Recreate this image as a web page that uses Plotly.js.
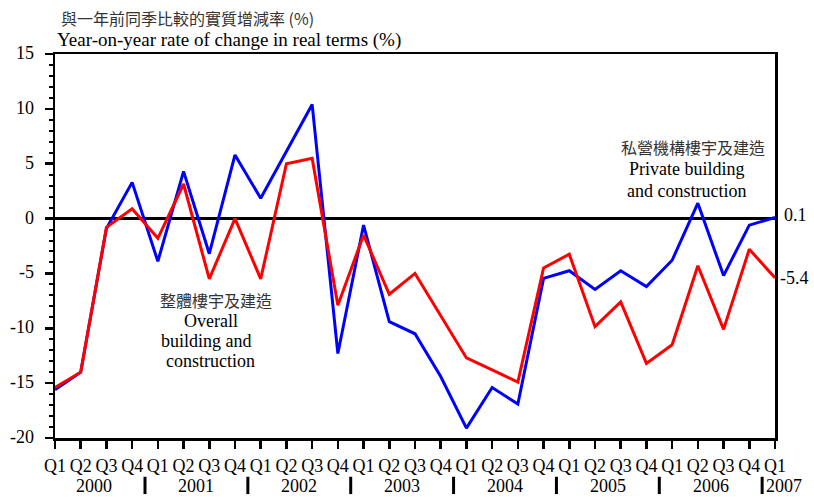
<!DOCTYPE html>
<html>
<head>
<meta charset="utf-8">
<script src="https://cdn.plot.ly/plotly-3.0.1.min.js"></script>
<style>
html,body{margin:0;padding:0;background:#fff;}
#chart{width:814px;height:497px;}
</style>
</head>
<body>
<div id="chart"></div>
<script>
const quarterLabels = ['Q1','Q2','Q3','Q4','Q1','Q2','Q3','Q4','Q1','Q2','Q3','Q4','Q1','Q2','Q3','Q4',
  'Q1','Q2','Q3','Q4','Q1','Q2','Q3','Q4','Q1','Q2','Q3','Q4','Q1'];
const years = ['2000','2001','2002','2003','2004','2005','2006','2007'];
const privateBC = [-15.6, -14.0, -0.9, 3.3, -3.9, 4.3, -3.2, 5.8, 1.85, 6.1, 10.4, -12.3,
  -0.6, -9.4, -10.5, -14.4, -19.1, -15.4, -16.9, -5.45, -4.75, -6.45, -4.75, -6.2,
  -3.8, 1.4, -5.2, -0.6, 0.1];
const overallBC = [-15.4, -14.0, -0.8, 0.9, -1.8, 3.15, -5.5, 0.0, -5.5, 5.0, 5.5, -7.9,
  -1.5, -6.9, -5.0, -8.8, -12.7, -13.8, -14.9, -4.5, -3.25, -9.85, -7.6, -13.2,
  -11.5, -4.3, -10.1, -2.8, -5.4];
const yTicks = [15, 10, 5, 0, -5, -10, -15, -20];
const overallLabel = ['整體樓宇及建造', 'Overall', 'building and', 'construction'];
const privateLabel = ['私營機構樓宇及建造', 'Private building', 'and construction'];
const titleLines = ['與一年前同季比較的實質增減率 (%)', 'Year-on-year rate of change in real terms (%)'];

const idx = quarterLabels.map((_, i) => i);
const serif = '"Liberation Serif", "Times New Roman", Times, serif';
const cjk = '"Noto Sans CJK TC", "Noto Sans CJK SC", sans-serif';
const last = idx.length - 1;

const traces = [
  {x: idx, y: privateBC, type: 'scatter', mode: 'lines', line: {color: '#0000ff', width: 3}, hoverinfo: 'skip'},
  {x: idx, y: overallBC, type: 'scatter', mode: 'lines', line: {color: '#ff0000', width: 3}, hoverinfo: 'skip'}
];

const annotations = [];
const shapes = [];
// y tick labels (placed as annotations for exact spacing from the axis)
yTicks.forEach(v => annotations.push({x: 0, y: v, xref: 'paper', yref: 'y', xanchor: 'right', yanchor: 'middle',
  xshift: -20, yshift: 1, borderpad: 0, text: String(v), showarrow: false, font: {family: serif, size: 18, color: '#000'}}));
years.forEach((yr, k) => {
  const first = k * 4;
  const n = Math.min(4, quarterLabels.length - first);
  if (n === 4) {
    annotations.push({x: first + 1.5, y: 0, xref: 'x', yref: 'paper', yshift: -47.5, yanchor: 'middle', xanchor: 'center',
      text: yr, showarrow: false, font: {family: serif, size: 18, color: '#000'}});
  } else {
    annotations.push({x: first - 0.5, y: 0, xref: 'x', yref: 'paper', yshift: -47.5, xshift: 2, yanchor: 'middle', xanchor: 'left',
      text: yr, showarrow: false, font: {family: serif, size: 18, color: '#000'}});
  }
  if (k > 0) {
    shapes.push({type: 'line', xref: 'x', yref: 'paper', x0: first - 0.5, x1: first - 0.5,
      y0: -0.101, y1: -0.146, line: {color: '#000', width: 3}});
  }
});
annotations.push({x: last, y: privateBC[last], xref: 'x', yref: 'y', xanchor: 'left', yanchor: 'middle', xshift: 7, yshift: 2,
  text: privateBC[last].toFixed(1), showarrow: false, font: {family: serif, size: 18, color: '#000'}});
annotations.push({x: last, y: overallBC[last], xref: 'x', yref: 'y', xanchor: 'left', yanchor: 'middle', xshift: 3, yshift: 0,
  text: overallBC[last].toFixed(1), showarrow: false, font: {family: serif, size: 18, color: '#000'}});

const overallPos = [[6.25, -7.43], [6.05, -9.33], [5.9, -11.15], [6.05, -12.98]];
overallLabel.forEach((t, i) => annotations.push({x: overallPos[i][0], y: overallPos[i][1], xref: 'x', yref: 'y',
  xanchor: 'center', yanchor: 'middle', text: t, showarrow: false, borderpad: 0,
  font: i === 0 ? {family: cjk, size: 16, color: '#333'} : {family: serif, size: 18, color: '#000'}}));
const privatePos = [[24.81, 6.55], [24.56, 4.49], [24.56, 2.54]];
privateLabel.forEach((t, i) => annotations.push({x: privatePos[i][0], y: privatePos[i][1], xref: 'x', yref: 'y',
  xanchor: 'center', yanchor: 'middle', text: t, showarrow: false, borderpad: 0,
  font: i === 0 ? {family: cjk, size: 16, color: '#333'} : {family: serif, size: 18, color: '#000'}}));

annotations.push({x: 0, y: 1, xref: 'paper', yref: 'paper', xanchor: 'left', yanchor: 'middle', xshift: 5, yshift: 36, borderpad: 0,
  text: titleLines[0], showarrow: false, font: {family: cjk, size: 16, color: '#333'}});
annotations.push({x: 0, y: 1, xref: 'paper', yref: 'paper', xanchor: 'left', yanchor: 'middle', xshift: 1, yshift: 14, borderpad: 0,
  text: titleLines[1], showarrow: false, font: {family: serif, size: 19, color: '#000'}});

const layout = {
  width: 814, height: 497,
  margin: {l: 55, r: 39, t: 54, b: 59},
  paper_bgcolor: '#fff', plot_bgcolor: '#fff',
  showlegend: false,
  xaxis: {
    range: [0, last], tickmode: 'array', tickvals: idx, ticktext: quarterLabels,
    ticks: 'outside', ticklen: 8, tickwidth: 2.5, tickcolor: '#000',
    showline: true, linecolor: '#000', linewidth: 2.5, mirror: true,
    showgrid: false, zeroline: false,
    tickfont: {family: serif, size: 18, color: '#000'},
    ticklabelstandoff: 2
  },
  yaxis: {
    range: [-20, 15], tickmode: 'array', tickvals: yTicks, showticklabels: false,
    ticks: 'outside', ticklen: 8, tickwidth: 2.5, tickcolor: '#000',
    minor: {dtick: 1, ticks: 'outside', ticklen: 4, tickwidth: 2, tickcolor: '#000', showgrid: false},
    showline: true, linecolor: '#000', linewidth: 2.5, mirror: true,
    showgrid: false, zeroline: true, zerolinecolor: '#000', zerolinewidth: 2.5
  },
  annotations: annotations,
  shapes: shapes
};

Plotly.newPlot('chart', traces, layout, {displayModeBar: false, staticPlot: true});
</script>
</body>
</html>
